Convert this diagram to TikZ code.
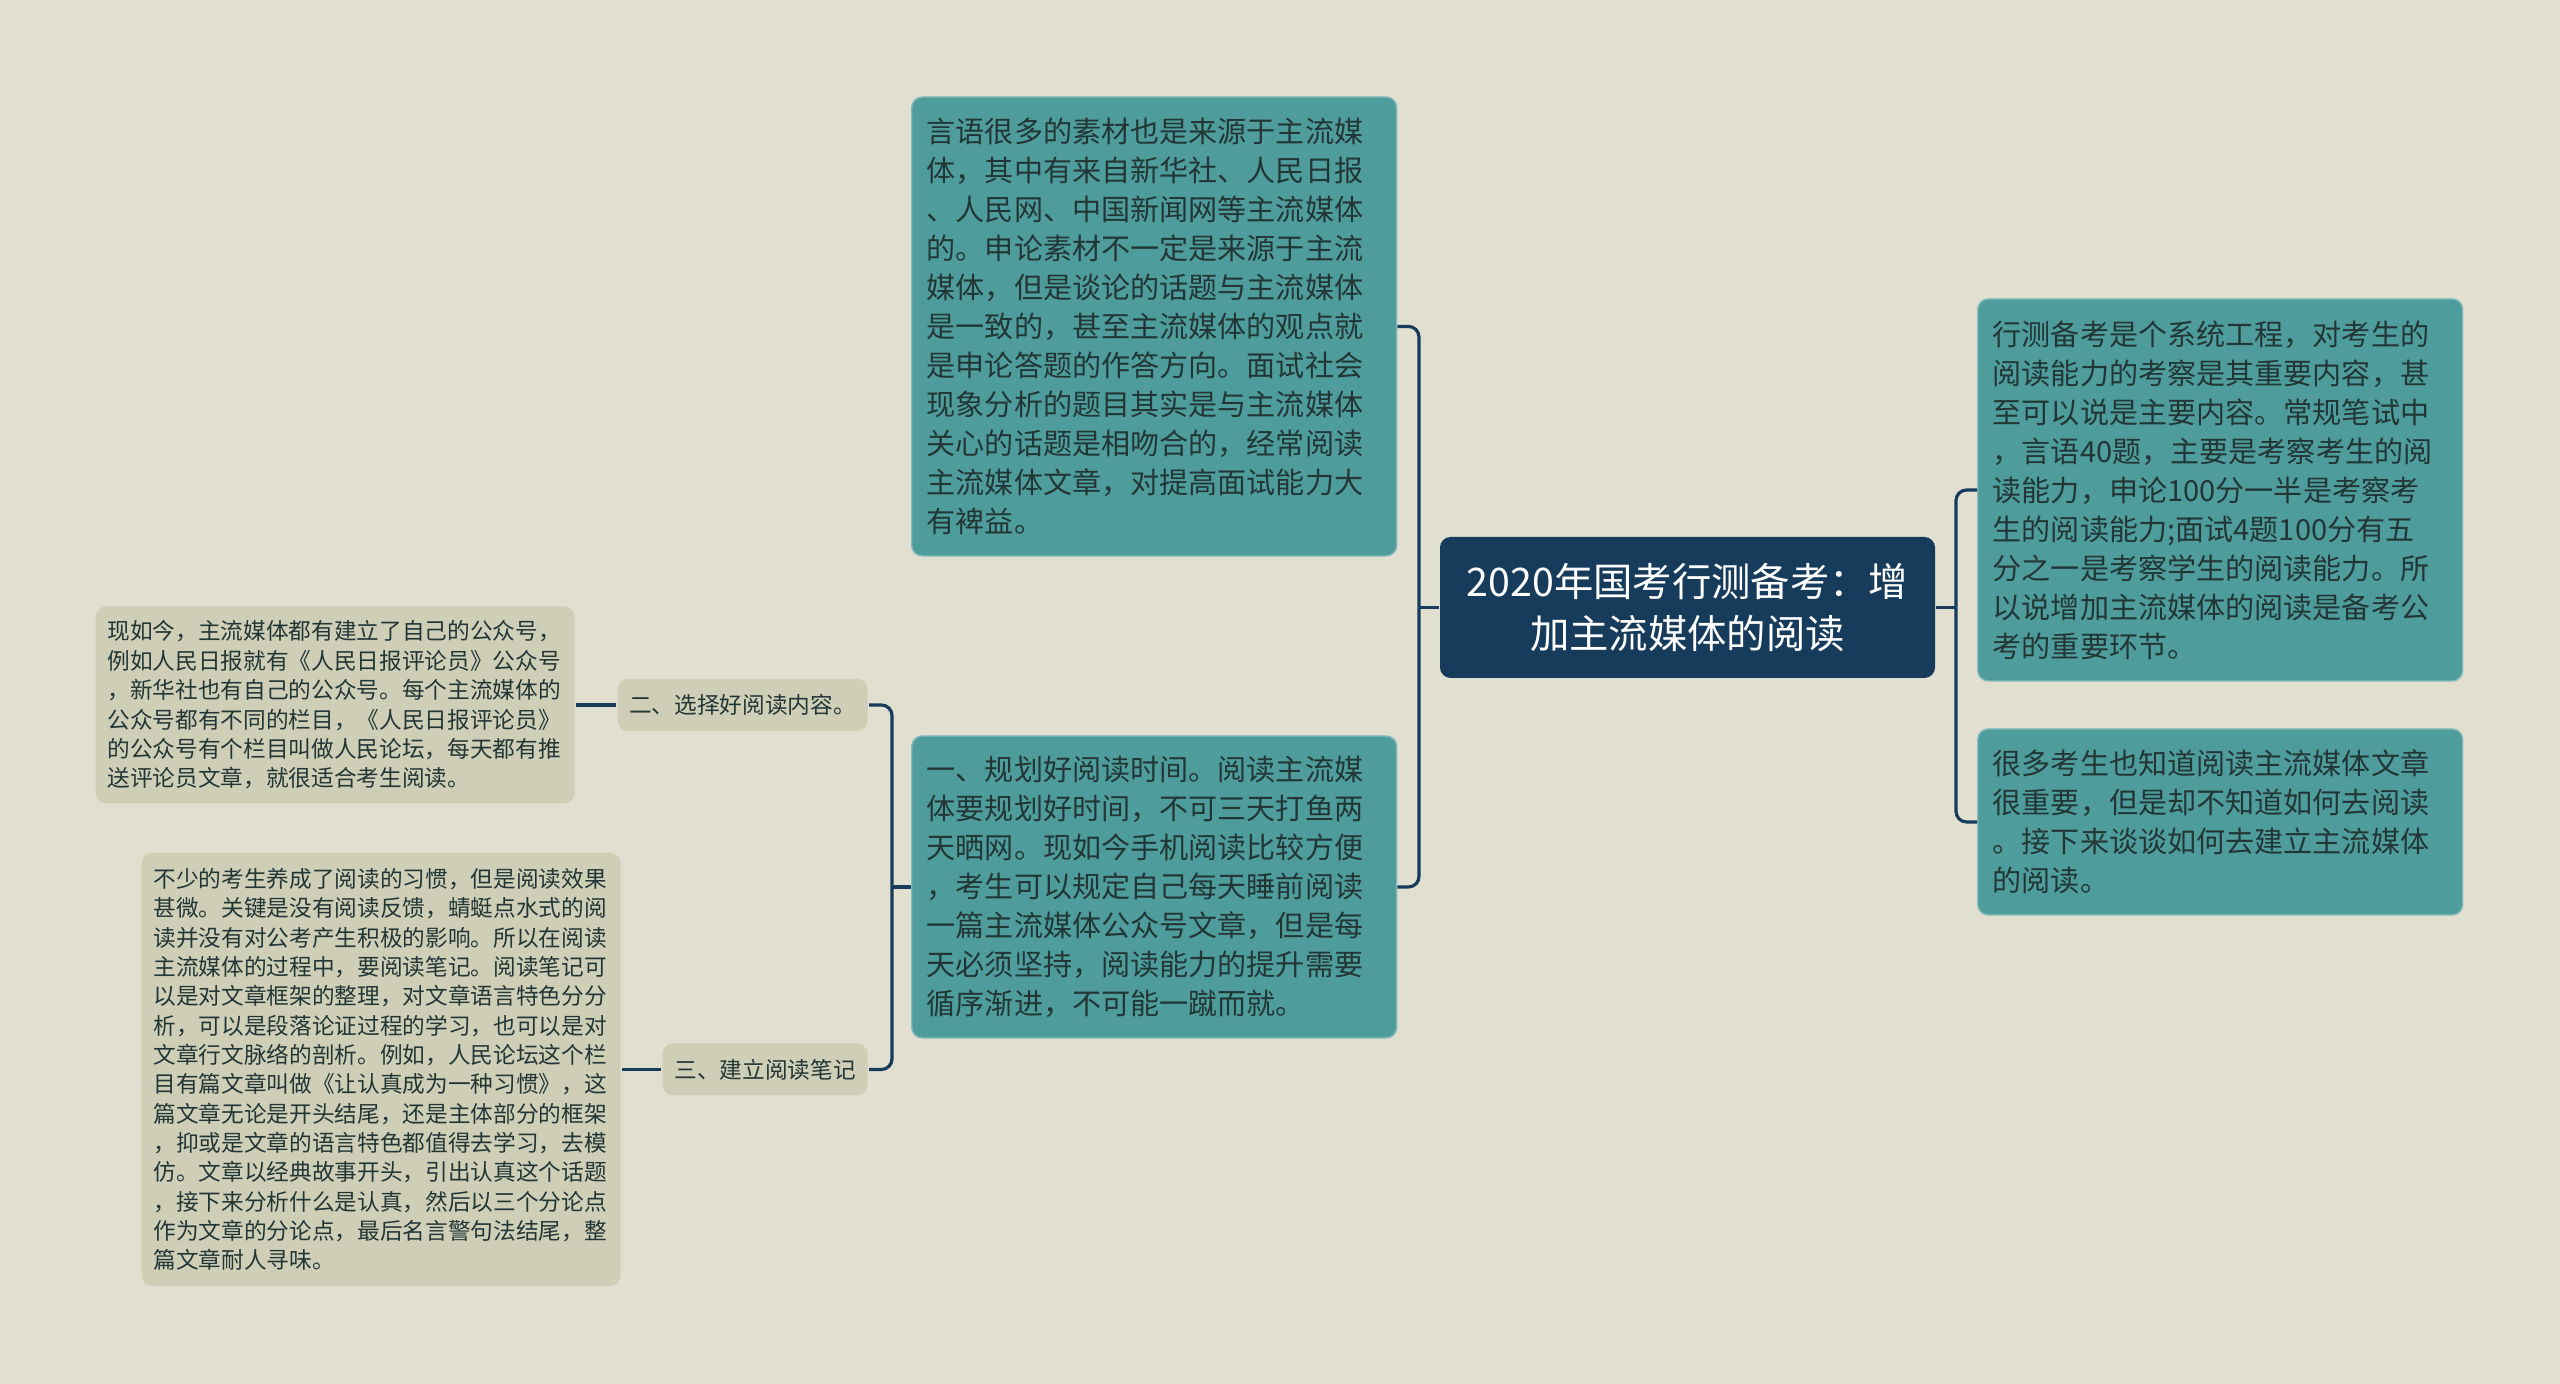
\documentclass[tikz,border=0pt]{standalone}
\usepackage{fontspec}
\newfontfamily\cjk{Noto Sans CJK SC}
\usepackage{xcolor}
\definecolor{bgc}{HTML}{E0DFD0}
\definecolor{tealc}{HTML}{4E9D9C}
\definecolor{navy}{HTML}{173B5B}
\definecolor{greyc}{HTML}{CFCEB7}
\definecolor{txt}{HTML}{233636}

\begin{document}
\begin{tikzpicture}[thick,
  root/.style = {fill=navy, text=white, rounded corners=3pt, align=center, minimum width=4.95cm, minimum height=1.41cm, font=\cjk\fontsize{11.2}{14.8}\selectfont},
  tealbox/.style = {fill=tealc, draw=tealc!70!white, line width=0.4pt, text=txt, rounded corners=3pt, align=left, text width=4.55cm, inner xsep=0.15cm, font=\cjk\fontsize{8.28}{11.1}\selectfont},
  greybox/.style = {fill=greyc, text=txt, rounded corners=3pt, align=center, inner xsep=0.11cm, minimum height=0.52cm, font=\cjk\fontsize{6.45}{8.35}\selectfont},
  leaf/.style = {fill=greyc, text=txt, rounded corners=3pt, align=left, text width=4.55cm, inner xsep=0.12cm, font=\cjk\fontsize{6.45}{8.35}\selectfont},
  link/.style = {draw=navy, line width=0.9pt, rounded corners=3pt}]
  \fill[bgc] (0,0) rectangle (25.6,13.84);
  \useasboundingbox (0,0) rectangle (25.6,13.84);
  \node[root] (1) at (16.875,7.765) {2020年国考行测备考：增\\加主流媒体的阅读};
  \node[tealbox, anchor=west, minimum height=4.59cm] (2) at (9.11,10.575) {言语很多的素材也是来源于主流媒\\体，其中有来自新华社、人民日报\\、人民网、中国新闻网等主流媒体\\的。申论素材不一定是来源于主流\\媒体，但是谈论的话题与主流媒体\\是一致的，甚至主流媒体的观点就\\是申论答题的作答方向。面试社会\\现象分析的题目其实是与主流媒体\\关心的话题是相吻合的，经常阅读\\主流媒体文章，对提高面试能力大\\有裨益。};
  \node[tealbox, anchor=west, minimum height=3.02cm] (3) at (9.11,4.97) {一、规划好阅读时间。阅读主流媒\\体要规划好时间，不可三天打鱼两\\天晒网。现如今手机阅读比较方便\\，考生可以规定自己每天睡前阅读\\一篇主流媒体公众号文章，但是每\\天必须坚持，阅读能力的提升需要\\循序渐进，不可能一蹴而就。};
  \node[tealbox, anchor=west, minimum height=3.82cm] (4) at (19.77,8.94) {行测备考是个系统工程，对考生的\\阅读能力的考察是其重要内容，甚\\至可以说是主要内容。常规笔试中\\，言语40题，主要是考察考生的阅\\读能力，申论100分一半是考察考\\生的阅读能力;面试4题100分有五\\分之一是考察学生的阅读能力。所\\以说增加主流媒体的阅读是备考公\\考的重要环节。};
  \node[tealbox, anchor=west, minimum height=1.86cm] (5) at (19.77,5.62) {很多考生也知道阅读主流媒体文章\\很重要，但是却不知道如何去阅读\\。接下来谈谈如何去建立主流媒体\\的阅读。};
  \node[greybox, anchor=east, minimum width=2.5cm] (6) at (8.69,6.79) {二、选择好阅读内容。};
  \node[greybox, anchor=east, minimum width=2.05cm] (7) at (8.69,3.145) {三、建立阅读笔记};
  \node[leaf, anchor=east, minimum height=1.97cm] (8) at (5.76,6.79) {现如今，主流媒体都有建立了自己的公众号，\\例如人民日报就有《人民日报评论员》公众号\\，新华社也有自己的公众号。每个主流媒体的\\公众号都有不同的栏目，《人民日报评论员》\\的公众号有个栏目叫做人民论坛，每天都有推\\送评论员文章，就很适合考生阅读。};
  \node[leaf, anchor=east, minimum height=4.33cm] (9) at (6.22,3.145) {不少的考生养成了阅读的习惯，但是阅读效果\\甚微。关键是没有阅读反馈，蜻蜓点水式的阅\\读并没有对公考产生积极的影响。所以在阅读\\主流媒体的过程中，要阅读笔记。阅读笔记可\\以是对文章框架的整理，对文章语言特色分分\\析，可以是段落论证过程的学习，也可以是对\\文章行文脉络的剖析。例如，人民论坛这个栏\\目有篇文章叫做《让认真成为一种习惯》，这\\篇文章无论是开头结尾，还是主体部分的框架\\，抑或是文章的语言特色都值得去学习，去模\\仿。文章以经典故事开头，引出认真这个话题\\，接下来分析什么是认真，然后以三个分论点\\作为文章的分论点，最后名言警句法结尾，整\\篇文章耐人寻味。};
  \coordinate (a) at (14.19,7.765);
  \coordinate (b) at (19.56,7.765);
  \coordinate (c) at (8.92,4.97);
  \draw[link] (1.west) -- (a);
  \draw[link] (a) |- (2.east);
  \draw[link] (a) |- (3.east);
  \draw[link] (1.east) -- (b);
  \draw[link] (b) |- (4.west);
  \draw[link] (b) |- (5.west);
  \draw[link] (3.west) -- (c);
  \draw[link] (c) |- (6.east);
  \draw[link] (c) |- (7.east);
  \draw[link] (6.west) -- (8.east);
  \draw[link] (7.west) -- (9.east);
\end{tikzpicture}
\end{document}
